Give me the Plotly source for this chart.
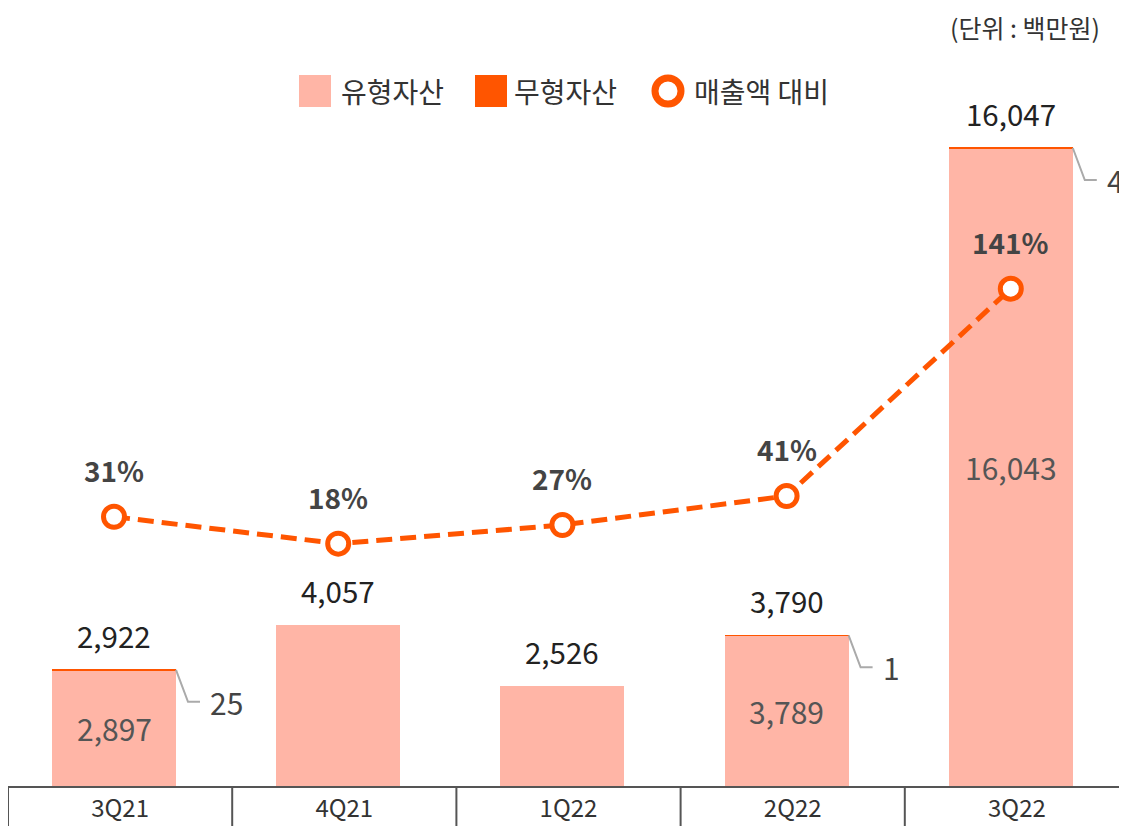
import plotly.graph_objects as go

# ---------------- data ----------------
quarters = ["3Q21", "4Q21", "1Q22", "2Q22", "3Q22"]
tangible = [2897, 4057, 2526, 3789, 16043]      # 유형자산
intangible = [25, 0, 0, 1, 4]                    # 무형자산
ratio_pct = [31, 18, 27, 41, 141]                # 매출액 대비 (%)
legend_names = ["유형자산", "무형자산", "매출액 대비"]
unit_note = "(단위 : 백만원)"

totals = [a + b for a, b in zip(tangible, intangible)]

# ---------------- layout constants ----------------
W, H = 1127, 826
OFF = 8                       # page body margin
ML, MR, MT, MB = 0, 6, 0, 48
PW, PH = W - ML - MR, H - MT - MB
CAT_PX = 224.2
X0 = -0.5
X1 = X0 + PW / CAT_PX
BAR_SHIFT = -6.1 / CAT_PX
BAR_W = 124 / CAT_PX
xs = [i + BAR_SHIFT for i in range(len(quarters))]

Y1_RANGE = [0, 19568]
Y2_RANGE = [-98.9, 276.4]

C_TANG = "#FFB5A6"
C_INTANG = "#FF5500"
C_LINE = "#FF5500"
FONT = "Noto Sans CJK KR, Noto Sans, sans-serif"


def px_x(sx):
    return (sx - OFF - ML) / PW


def px_y(sy):
    return (H - MB - (sy - OFF)) / PH


fig = go.Figure()

fig.add_trace(go.Bar(x=xs, y=tangible, width=BAR_W, marker=dict(color=C_TANG, line=dict(width=0)),
                     name=legend_names[0], showlegend=False))
fig.add_trace(go.Bar(x=xs, y=intangible, width=BAR_W, marker=dict(color=C_INTANG, line=dict(width=0)),
                     name=legend_names[1], showlegend=False))
fig.add_trace(go.Scatter(x=xs, y=ratio_pct, yaxis="y2", mode="lines+markers",
                         line=dict(color=C_LINE, width=5, dash="16px,8px"),
                         marker=dict(size=21, color="white", line=dict(color=C_LINE, width=5)),
                         name=legend_names[2], showlegend=False, cliponaxis=False))

annotations = []
shapes = []

for i in range(len(quarters)):
    # totals above bars
    annotations.append(dict(x=xs[i], y=totals[i], xref="x", yref="y", text=f"{totals[i]:,}",
                            showarrow=False, yshift=35, font=dict(size=29.5, color="#222", family=FONT)))
    if intangible[i] > 0:
        # tangible value inside bar
        annotations.append(dict(x=xs[i], y=tangible[i] / 2, xref="x", yref="y", text=f"{tangible[i]:,}",
                                showarrow=False, font=dict(size=30, color="#555", family=FONT)))
        # intangible callout
        xr = xs[i] + BAR_W / 2
        shapes.append(dict(type="path", xref="x", yref="y", xsizemode="pixel", ysizemode="pixel",
                           xanchor=xr, yanchor=totals[i], path="M0,0 L12,-32 L24,-32",
                           line=dict(color="#AAAAAA", width=2)))
        annotations.append(dict(x=xr, y=totals[i], xref="x", yref="y", text=f"{intangible[i]:,}",
                                xanchor="left", showarrow=False, xshift=32, yshift=-32,
                                font=dict(size=30, color="#444", family=FONT)))
    # percentage labels
    annotations.append(dict(x=xs[i], y=ratio_pct[i], xref="x", yref="y2", text=f"<b>{ratio_pct[i]}%</b>",
                            showarrow=False, yshift=47, font=dict(size=28, color="#444", family=FONT)))

# category dividers below the axis
for k in range(len(quarters) + 1):
    xp = (k - 0.5 - X0) / (X1 - X0)
    shapes.append(dict(type="line", xref="paper", yref="paper", x0=xp, x1=xp, y0=0, y1=-MB / PH,
                       line=dict(color="#555", width=2)))

# unit note
annotations.append(dict(x=px_x(1101), y=1.0, xref="paper", yref="paper", text=unit_note,
                        xanchor="right", yanchor="top", showarrow=False, borderpad=0,
                        font=dict(size=25, color="#333", family=FONT)))

# manual legend
LY = 91
shapes.append(dict(type="rect", xref="paper", yref="paper", x0=px_x(299), x1=px_x(331),
                   y0=px_y(LY + 16), y1=px_y(LY - 16), fillcolor=C_TANG, line=dict(width=0)))
shapes.append(dict(type="rect", xref="paper", yref="paper", x0=px_x(475), x1=px_x(507),
                   y0=px_y(LY + 16), y1=px_y(LY - 16), fillcolor=C_INTANG, line=dict(width=0)))
shapes.append(dict(type="circle", xref="paper", yref="paper", x0=px_x(655), x1=px_x(681),
                   y0=px_y(LY + 13), y1=px_y(LY - 13), fillcolor="white", line=dict(color=C_LINE, width=7)))
for name, lx in zip(legend_names, [339, 512, 692]):
    annotations.append(dict(x=px_x(lx), y=px_y(LY), xref="paper", yref="paper", text=name,
                            xanchor="left", yanchor="middle", showarrow=False,
                            font=dict(size=28, color="#333", family=FONT)))

fig.update_layout(
    width=W, height=H,
    margin=dict(l=ML, r=MR, t=MT, b=MB),
    paper_bgcolor="white", plot_bgcolor="white",
    barmode="stack", bargap=0,
    font=dict(family=FONT, color="#333"),
    xaxis=dict(range=[X0, X1], tickvals=list(range(len(quarters))), ticktext=quarters,
               showgrid=False, zeroline=False, showline=True, linecolor="#555", linewidth=2,
               ticks="", ticklabelstandoff=0, tickfont=dict(size=24, color="#333", family=FONT)),
    yaxis=dict(range=Y1_RANGE, visible=False, showgrid=False, zeroline=False),
    yaxis2=dict(range=Y2_RANGE, overlaying="y", visible=False, showgrid=False, zeroline=False),
    annotations=annotations,
    shapes=shapes,
    showlegend=False,
)

fig.write_html("out.html")
